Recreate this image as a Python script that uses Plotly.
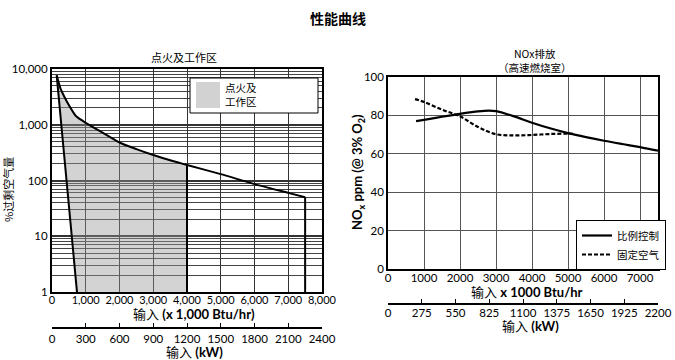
import plotly.graph_objects as go

W, H = 675, 360
def fx(p): return p / W
def fy(p): return 1 - p / H

FONT = "Lato, 'Noto Sans CJK SC', sans-serif"
CJK = "'Noto Sans CJK SC', sans-serif"

# ---------------- data: left chart (ignition & operating range) ----------------
btu_ticks_left = [0, 1000, 2000, 3000, 4000, 5000, 6000, 7000, 8000]
btu_labels_left = ["0", "1,000", "2,000", "3,000", "4,000", "5,000", "6,000", "7,000", "8,000"]
kw_ticks_left = [0, 300, 600, 900, 1200, 1500, 1800, 2100, 2400]
excess_ticks = [1, 10, 100, 1000, 10000]
excess_labels = ["1", "10", "100", "1,000", "10,000"]
excess_minor = [m * d for d in [1, 10, 100, 1000] for m in range(2, 10)]

max_curve_x = [139, 250, 400, 500, 700, 1000, 1500, 2000, 2500, 3000, 3500, 4000, 5000, 6000, 7000, 7500]
max_curve_y = [7700, 4500, 2900, 2250, 1450, 1080, 720, 480, 365, 286, 230, 190, 130, 86, 60, 50]
ignition_x = [139, 740]
ignition_y = [7700, 1]
operating_limit = 4000
max_input = 7500

# ---------------- data: right chart (NOx) ----------------
btu_ticks_right = [0, 1000, 2000, 3000, 4000, 5000, 6000, 7000]
kw_ticks_right = [0, 275, 550, 825, 1100, 1375, 1650, 1925, 2200]
nox_ticks = [0, 20, 40, 60, 80, 100]

prop_x = [780, 1000, 1500, 2000, 2500, 2800, 3000, 3500, 4000, 4500, 5000, 5500, 6000, 6500, 7000, 7500]
prop_y = [77, 77.7, 79.3, 80.8, 82.1, 82.5, 82.2, 79.5, 76.2, 73.3, 70.8, 68.7, 66.8, 65.1, 63.5, 61.6]
fixed_x = [750, 1000, 1500, 2000, 2500, 3000, 3500, 4000, 4500, 5000, 5200]
fixed_y = [88.5, 87, 83, 79.5, 74, 70.2, 69.6, 69.8, 70.3, 70.5, 70.4]

FILL = "rgba(150,150,150,0.42)"

fig = go.Figure()

# shaded operating region
in_range = [i for i, x in enumerate(max_curve_x) if x <= operating_limit]
fill_x = [ignition_x[1]] + [max_curve_x[i] for i in in_range] + [operating_limit, ignition_x[1]]
fill_y = [ignition_y[1]] + [max_curve_y[i] for i in in_range] + [ignition_y[1], ignition_y[1]]
fig.add_trace(go.Scatter(x=fill_x, y=fill_y, fill="toself", mode="lines",
                         line=dict(width=0), fillcolor=FILL, showlegend=False,
                         xaxis="x", yaxis="y", hoverinfo="skip"))
# max curve
fig.add_trace(go.Scatter(x=max_curve_x, y=max_curve_y, mode="lines",
                         line=dict(color="black", width=2, shape="spline", smoothing=0.6),
                         showlegend=False, xaxis="x", yaxis="y"))
# max-input drop
fig.add_trace(go.Scatter(x=[max_input, max_input], y=[max_curve_y[-1], 1], mode="lines",
                         line=dict(color="black", width=2), showlegend=False,
                         xaxis="x", yaxis="y"))
# ignition line
fig.add_trace(go.Scatter(x=ignition_x, y=ignition_y, mode="lines",
                         line=dict(color="black", width=2), showlegend=False,
                         xaxis="x", yaxis="y"))
# operating limit line
lim_y = max_curve_y[max_curve_x.index(operating_limit)]
fig.add_trace(go.Scatter(x=[operating_limit, operating_limit], y=[lim_y, 1], mode="lines",
                         line=dict(color="black", width=2), showlegend=False,
                         xaxis="x", yaxis="y"))
# dummy for kW axis left
fig.add_trace(go.Scatter(x=[kw_ticks_left[0], kw_ticks_left[-1]], y=[1, 1], mode="lines",
                         line=dict(width=0), showlegend=False, hoverinfo="skip",
                         xaxis="x3", yaxis="y"))

# right chart lines
fig.add_trace(go.Scatter(x=prop_x, y=prop_y, mode="lines", line_shape="spline",
                         line=dict(color="black", width=2.2), name="比例控制",
                         xaxis="x2", yaxis="y2"))
fig.add_trace(go.Scatter(x=fixed_x, y=fixed_y, mode="lines", line_shape="spline",
                         line=dict(color="black", width=2.2, dash="4px,2px"), name="固定空气",
                         xaxis="x2", yaxis="y2"))
fig.add_trace(go.Scatter(x=[kw_ticks_right[0], kw_ticks_right[-1]], y=[0, 0], mode="lines",
                         line=dict(width=0), showlegend=False, hoverinfo="skip",
                         xaxis="x4", yaxis="y2"))

tickfont = dict(family=FONT, size=11.5, color="black")

fig.update_layout(
    width=W, height=H, margin=dict(l=0, r=0, t=0, b=0, autoexpand=False),
    paper_bgcolor="white", plot_bgcolor="white",
    font=dict(family=FONT, color="black"),
    xaxis=dict(domain=[fx(52), fx(322)], range=[0, 8000], tickvals=btu_ticks_left,
               ticktext=btu_labels_left, showgrid=True, gridcolor="#333", gridwidth=1.2,
               showline=True, linecolor="black", linewidth=2, mirror=True, automargin=False,
               ticks="", tickfont=dict(family=FONT, size=11, color="black"),
               ticklabelstandoff=-3, zeroline=False, anchor="y"),
    yaxis=dict(domain=[fy(292), fy(69)], type="log", range=[0, 4], tickvals=excess_ticks,
               ticktext=excess_labels, showgrid=True, gridcolor="#333", gridwidth=1.8,
               minor=dict(tickvals=excess_minor, showgrid=True, gridcolor="#444", gridwidth=1, ticks=""),
               showline=True, linecolor="black", linewidth=2, mirror=True, automargin=False,
               ticks="", tickfont=tickfont, anchor="x"),
    xaxis3=dict(overlaying="x", anchor="free", position=fy(328), side="bottom",
                range=[0, 2400], tickvals=kw_ticks_left, showgrid=False, zeroline=False,
                showline=True, linecolor="black", linewidth=1.5, automargin=False,
                ticks="inside", ticklen=4, tickcolor="black", tickfont=tickfont),
    xaxis2=dict(domain=[fx(388), fx(658)], range=[0, 7500], tickvals=btu_ticks_right,
                showgrid=True, gridcolor="#555", gridwidth=1.2, automargin=False,
                showline=True, linecolor="black", linewidth=1.5, mirror=True,
                ticks="", tickfont=tickfont, ticklabelstandoff=-3, zeroline=False, anchor="y2"),
    yaxis2=dict(domain=[fy(269), fy(77)], range=[0, 100], tickvals=nox_ticks,
                showgrid=True, gridcolor="#555", gridwidth=1.2, automargin=False,
                showline=True, linecolor="black", linewidth=1.5, mirror=True,
                ticks="", tickfont=tickfont, zeroline=False, anchor="x2"),
    xaxis4=dict(overlaying="x2", anchor="free", position=fy(304), side="bottom",
                range=[0, 2200], tickvals=kw_ticks_right, showgrid=False, zeroline=False,
                showline=True, linecolor="black", linewidth=1.5, automargin=False,
                ticks="inside", ticklen=4, tickcolor="black", tickfont=tickfont,
                ticklabelstandoff=-2),
    legend=dict(x=fx(576), y=fy(220), xanchor="left", yanchor="top",
                bgcolor="white", bordercolor="black", borderwidth=1,
                font=dict(family=CJK, size=10.5), tracegroupgap=0, itemwidth=30),
)

# legend box of the left chart (guide, in paper coordinates)
fig.add_shape(type="rect", xref="paper", yref="paper", x0=fx(190), x1=fx(318), y0=fy(113), y1=fy(78),
              line=dict(color="black", width=1), fillcolor="white", layer="above")
fig.add_shape(type="rect", xref="paper", yref="paper", x0=fx(196), x1=fx(220), y0=fy(108), y1=fy(82),
              line=dict(width=0), fillcolor="#d2d2d2", layer="above")

ann = [
    dict(text="<b>性能曲线</b>", x=fx(338), y=fy(18), font=dict(family=CJK, size=14)),
    dict(text="点火及工作区", x=fx(184), y=fy(57), font=dict(family=CJK, size=11)),
    dict(text="点火及<br>工作区", x=fx(223), y=fy(94.5), xanchor="left", align="left",
         font=dict(family=CJK, size=10.5)),
    dict(text="NOx排放", x=fx(535), y=fy(53), font=dict(family=CJK, size=10.5)),
    dict(text="（高速燃烧室）", x=fx(535), y=fy(67), font=dict(family=CJK, size=10.5)),
    dict(text="输入 <b>(x 1,000 Btu/hr)</b>", x=fx(194), y=fy(314), font=dict(family=FONT, size=13)),
    dict(text="输入 <b>(kW)</b>", x=fx(195), y=fy(352), font=dict(family=FONT, size=13)),
    dict(text="输入 <b>x 1000 Btu/hr</b>", x=fx(527), y=fy(292), font=dict(family=FONT, size=13)),
    dict(text="输入 <b>(kW)</b>", x=fx(530), y=fy(326), font=dict(family=FONT, size=13)),
    dict(text="%过剩空气量", x=fx(8), y=fy(190), textangle=-90, font=dict(family=CJK, size=11)),
    dict(text="<b>NO<sub>x</sub> ppm (@ 3% O<sub>2</sub>)</b>", x=fx(358), y=fy(172),
         textangle=-90, font=dict(family=FONT, size=13)),
]
for a in ann:
    a.setdefault("xanchor", "center")
    a.update(xref="paper", yref="paper", showarrow=False, yanchor="middle")
fig.update_layout(annotations=ann)

fig.write_html("out.html", config={"displayModeBar": False},
               post_script="document.body.style.margin='0';document.body.style.overflow='hidden';")
